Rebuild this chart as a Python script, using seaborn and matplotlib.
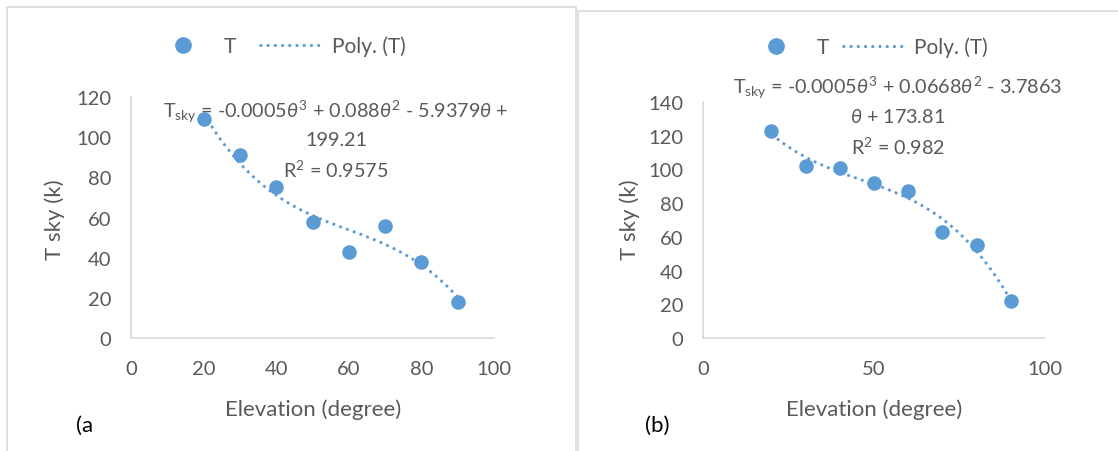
import numpy as np
import pandas as pd
import matplotlib
matplotlib.use("Agg")
import matplotlib.pyplot as plt
from matplotlib.lines import Line2D
from matplotlib.patches import Rectangle
import seaborn as sns

# ---- data ----
elev = [20, 30, 40, 50, 60, 70, 80, 90]
tsky_a = [109, 91, 75, 58, 43, 56, 38, 18]
tsky_b = [123, 102, 101, 92, 87, 63, 55, 22]
eq_a = [r"T$_{\mathrm{sky}}$ = -0.0005$\mathit{\theta}^{3}$ + 0.088$\mathit{\theta}^{2}$ - 5.9379$\mathit{\theta}$ +",
        "199.21", r"R$^{2}$ = 0.9575"]
eq_b = [r"T$_{\mathrm{sky}}$ = -0.0005$\mathit{\theta}^{3}$ + 0.0668$\mathit{\theta}^{2}$ - 3.7863",
        r"$\mathit{\theta}$ + 173.81", r"R$^{2}$ = 0.982"]
xticks_a = [0, 20, 40, 60, 80, 100]
xticks_b = [0, 50, 100]
yticks_a = [0, 20, 40, 60, 80, 100, 120]
yticks_b = [0, 20, 40, 60, 80, 100, 120, 140]

sns.set_theme(style="white")
plt.rcParams['font.family'] = ['Lato', 'DejaVu Sans']
plt.rcParams['mathtext.fontset'] = 'custom'
plt.rcParams['mathtext.rm'] = 'Lato'
plt.rcParams['mathtext.it'] = 'Lato:italic'
plt.rcParams['mathtext.bf'] = 'Lato:bold'

BLUE = "#5B9BD5"
GRAY = "#595959"
AXC = "#D9D9D9"
DOT = (0, (1, 1.6))

W, H = 1118, 452
fig = plt.figure(figsize=(W / 100, H / 100), dpi=100)

def fx(px):
    return px / W

def fy(py):
    return 1 - py / H

# panel borders
fig.patches.append(Rectangle((fx(7), fy(460)), fx(576) - fx(7), fy(8) - fy(460),
                             transform=fig.transFigure, fill=False, edgecolor=AXC, lw=1.2))
fig.patches.append(Rectangle((fx(578), fy(460)), fx(1130) - fx(578), fy(12) - fy(460),
                             transform=fig.transFigure, fill=False, edgecolor=AXC, lw=1.2))

def panel(x0, x1, ytop, ymax, yvals, xticks, yticks, eq, eq_cx, eq_ys,
          leg_cx, leg_y, ylab_x, xlab_cx, letter, letter_x, colsp):
    ax = fig.add_axes([fx(x0), fy(339), fx(x1) - fx(x0), fy(ytop) - fy(339)])
    df = pd.DataFrame({"x": elev, "y": yvals})
    sns.regplot(data=df, x="x", y="y", order=3, ci=None, scatter=False, ax=ax,
                line_kws=dict(color=BLUE, linestyle=DOT, lw=2.0))
    sns.scatterplot(data=df, x="x", y="y", ax=ax, color=BLUE, s=110,
                    edgecolor=BLUE, linewidth=0, zorder=3)
    ax.set_xlim(0, 100)
    ax.set_ylim(0, ymax)
    ax.set_xticks(xticks)
    ax.set_yticks(yticks)
    ax.tick_params(axis='both', length=0, labelsize=14.5, colors=GRAY)
    ax.tick_params(axis='y', pad=14)
    ax.tick_params(axis='x', pad=16)
    ax.set_xlabel("")
    ax.set_ylabel("")
    for s in ["top", "right"]:
        ax.spines[s].set_visible(False)
    for s in ["left", "bottom"]:
        ax.spines[s].set_color(AXC)
        ax.spines[s].set_linewidth(1.2)
    ax.patch.set_alpha(0)
    for line, yy in zip(eq, eq_ys):
        fig.text(fx(eq_cx), fy(yy), line, ha="center", va="center",
                 fontsize=14.2, color=GRAY)
    # axis labels
    fig.text(fx(ylab_x), fy(220), "T sky (k)", rotation=90, ha="center",
             va="center", fontsize=16, color=GRAY)
    fig.text(fx(xlab_cx), fy(410), "Elevation (degree)", ha="center",
             va="center", fontsize=16, color=GRAY)
    fig.text(fx(letter_x), fy(426), letter, ha="left", va="center",
             fontsize=16, color="black")
    handles = [Line2D([], [], marker='o', linestyle='none', color=BLUE,
                      markersize=11, label="T"),
               Line2D([], [], color=BLUE, linestyle=DOT, lw=2.0,
                      label="Poly. (T)")]
    fig.legend(handles=handles, loc="center", bbox_to_anchor=(fx(leg_cx), fy(leg_y)),
               ncol=2, frameon=False, fontsize=15, labelcolor=GRAY,
               handlelength=3.1, columnspacing=colsp, handletextpad=0.4)
    return ax

panel(131, 494, 98, 120, tsky_a, xticks_a, yticks_a, eq_a, 336, [112, 141, 170],
      278, 47, 55, 313, "(a", 76, 1.1)
panel(703, 1045, 103, 140, tsky_b, xticks_b, yticks_b, eq_b, 898, [88, 117, 147],
      866, 48, 630, 874, "(b)", 645, 0.6)

fig.savefig("out.png", dpi=100)
